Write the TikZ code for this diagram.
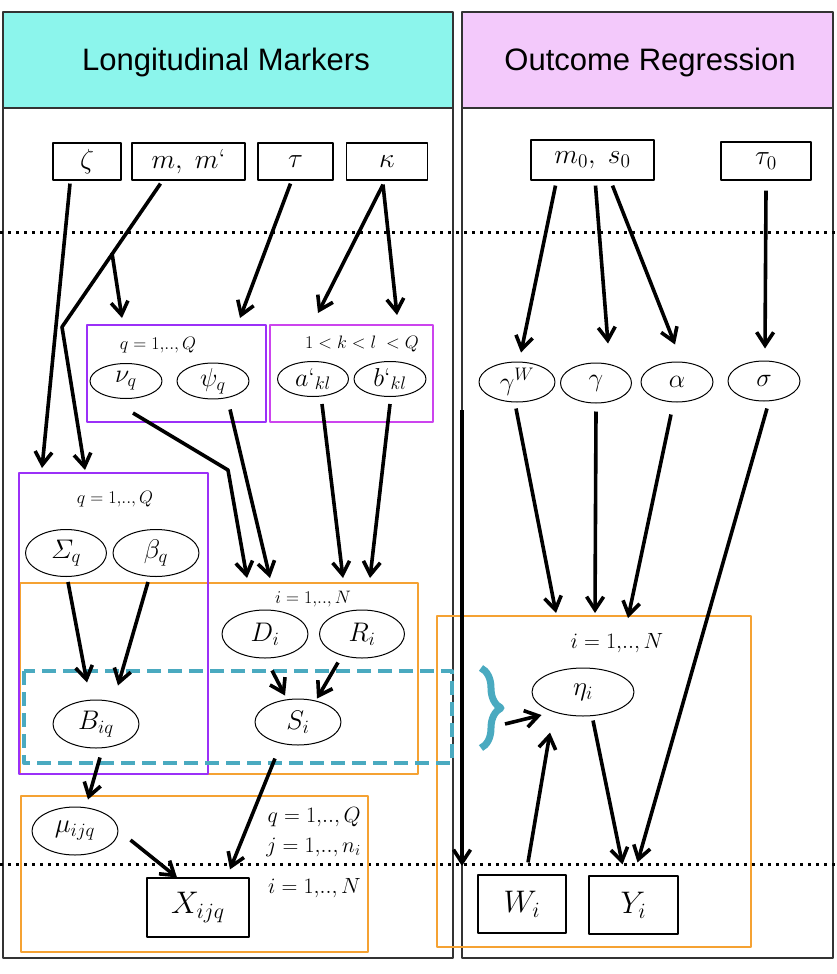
\RequirePackage{fix-cm}
\documentclass[tikz,border=0pt]{standalone}
\usepackage{amsmath}
\usepackage{fontspec}
\newfontfamily\headfont{Liberation Sans}
\usetikzlibrary{arrows.meta,shapes.geometric,decorations.pathreplacing}
\definecolor{MarkerCyan}{RGB}{140,245,236}
\definecolor{OutcomePink}{RGB}{243,201,251}
\definecolor{PlateViolet}{RGB}{155,48,248}
\definecolor{PlateMagenta}{RGB}{204,68,238}
\definecolor{PlateOrange}{RGB}{245,162,51}
\definecolor{BraceTeal}{RGB}{74,170,192}
\newcommand{\setsz}[1]{\fontsize{#1}{#1}\selectfont}
% math above 24pt is set at 24pt and scaled up
\newcommand{\mvar}[2]{\scalebox{#1}{\setsz{24}$#2$}}

\begin{document}
\begin{tikzpicture}[x=1pt, y=-1pt, line join=round,
  arr/.style={line width=3.6pt, -{Straight Barb[length=13pt,width=17pt]}},
  latent/.style={draw, ellipse, line width=1pt, inner sep=0pt},
  obs/.style={draw, rectangle, line width=1.2pt, inner sep=0pt},
  panel/.style={draw=black!80, line width=1.2pt},
  plateV/.style={draw=PlateViolet, line width=1.6pt},
  plateM/.style={draw=PlateMagenta, line width=1.6pt},
  plateO/.style={draw=PlateOrange, line width=1.6pt},
  dotline/.style={line width=3pt, dash pattern=on 3pt off 5pt},
  idx/.style={inner sep=0pt}]
  \useasboundingbox (0,0) rectangle (836,974);

  % Panels and headers
  \fill[MarkerCyan] (3,12) rectangle (453,108);
  \fill[OutcomePink] (462,12) rectangle (833,108);
  \draw[panel] (3,12) rectangle (453,958) (3,108) -- (453,108);
  \draw[panel] (462,12) rectangle (833,958) (462,108) -- (833,108);
  \node (headL) at (226,62) {\headfont\setsz{31}Longitudinal Markers};
  \node (headR) at (650,62) {\headfont\setsz{31}Outcome Regression};

  % Dotted separators
  \draw[dotline] (0,232) -- (836,232);
  \draw[dotline] (0,864) -- (836,864);

  % Plates
  \draw[plateV] (87,325) rectangle (266,422);
  \draw[plateM] (270,325) rectangle (433,422);
  \draw[plateO] (20,583) rectangle (418,774);
  \draw[plateV] (19,473) rectangle (208,774);
  \draw[plateO] (21,796) rectangle (368,952);
  \draw[plateO] (437,616) rectangle (751,947);
  \draw[BraceTeal, line width=4pt, dash pattern=on 14pt off 7pt] (24,671) rectangle (452,763);

  % Plate indices
  \node[idx] (qNu) at (158,345) {\setsz{18}$q = 1{,}..,Q$};
  \node[idx] (kl) at (362,344) {\setsz{18}$1<k<l\;<Q$};
  \node[idx] (qSB) at (115,499) {\setsz{18}$q = 1{,}..,Q$};
  \node[idx] (iD) at (313,599) {\setsz{18}$i = 1{,}..,N$};
  \node[idx] (iEta) at (617,643) {\setsz{22}$i = 1{,}..,N$};
  \node[idx, anchor=east] (qX) at (361,817) {\setsz{22}$q = 1{,}..,Q$};
  \node[idx, anchor=east] (jX) at (361,847) {\setsz{22}$j = 1{,}..,n_i$};
  \node[idx, anchor=east] (iX) at (361,888) {\setsz{22}$i = 1{,}..,N$};

  % Hyperparameters
  \node[obs, minimum width=68pt, minimum height=37pt] (zeta) at (87,161.5) {\mvar{1.15}{\zeta}};
  \node[obs, minimum width=113pt, minimum height=37pt] (mm) at (188.5,161.5) {\mvar{1.15}{m,\; m\text{‘}}};
  \node[obs, minimum width=75pt, minimum height=37pt] (tau) at (295.5,161.5) {\mvar{1.15}{\tau}};
  \node[obs, minimum width=81pt, minimum height=37pt] (kappa) at (387,161.5) {\mvar{1.15}{\kappa}};
  \node[obs, minimum width=123pt, minimum height=40pt] (ms0) at (592.5,160) {\mvar{1.15}{m_0,\; s_0}};
  \node[obs, minimum width=90pt, minimum height=38pt] (tau0) at (766,161) {\mvar{1.15}{\tau_0}};

  % Latent variables
  \node[latent, minimum width=72pt, minimum height=35pt] (nu) at (126,381) {\mvar{1.08}{\nu_q}};
  \node[latent, minimum width=72pt, minimum height=35pt] (psi) at (213,381) {\mvar{1.08}{\psi_q}};
  \node[latent, minimum width=71pt, minimum height=35pt] (ap) at (313,379) {\mvar{1.08}{a\text{‘}_{kl}}};
  \node[latent, minimum width=72pt, minimum height=35pt] (bp) at (390,379) {\mvar{1.08}{b\text{‘}_{kl}}};
  \node[latent, minimum width=81pt, minimum height=47pt] (Sigma) at (66,553) {\mvar{1.12}{\varSigma_q}};
  \node[latent, minimum width=86pt, minimum height=47pt] (beta) at (156,553) {\mvar{1.12}{\beta_q}};
  \node[latent, minimum width=86pt, minimum height=48pt] (D) at (265,634) {\mvar{1.12}{D_i}};
  \node[latent, minimum width=85pt, minimum height=48pt] (R) at (362,634) {\mvar{1.12}{R_i}};
  \node[latent, minimum width=86pt, minimum height=48pt] (B) at (96,724) {\mvar{1.12}{B_{iq}}};
  \node[latent, minimum width=86pt, minimum height=46pt] (S) at (298,722) {\mvar{1.12}{S_i}};
  \node[latent, minimum width=86pt, minimum height=48pt] (mu) at (75,831) {\mvar{1.12}{\mu_{ijq}}};
  \node[latent, minimum width=76pt, minimum height=40pt] (gW) at (517,382) {\mvar{1.08}{\gamma^W}};
  \node[latent, minimum width=71pt, minimum height=40pt] (gamma) at (596,383) {\mvar{1.08}{\gamma}};
  \node[latent, minimum width=72pt, minimum height=40pt] (alpha) at (677,382) {\mvar{1.08}{\alpha}};
  \node[latent, minimum width=72pt, minimum height=40pt] (sigma) at (764,381) {\mvar{1.08}{\sigma}};
  \node[latent, minimum width=102pt, minimum height=48pt] (eta) at (583,692) {\mvar{1.12}{\eta_i}};

  % Observed data
  \node[obs, minimum width=102pt, minimum height=59pt] (X) at (198,907.5) {\mvar{1.3}{X_{ijq}}};
  \node[obs, minimum width=88pt, minimum height=58pt] (W) at (522,904) {\mvar{1.3}{W_i}};
  \node[obs, minimum width=89pt, minimum height=58pt] (Y) at (633.5,905) {\mvar{1.3}{Y_i}};

  % Brace joining B and S
  \draw[BraceTeal, line width=7pt, decorate, decoration={brace, amplitude=20pt}] (481,668) -- (481,748);
  \coordinate (braceTip) at (505,724);

  % Arrow end points on plates
  \coordinate (zEnd) at (42,468);
  \coordinate (mFork) at (112,253);
  \coordinate (mBend) at (62,327);
  \coordinate (mEnd) at (85,470);
  \coordinate (nuIn) at (122,318);
  \coordinate (tEnd) at (240,318);
  \coordinate (kEnd1) at (318,313);
  \coordinate (kEnd2) at (397,315);
  \coordinate (nuBend) at (228,470);
  \coordinate (dIn1) at (247,578);
  \coordinate (dIn2) at (270,578);
  \coordinate (rIn1) at (343,578);
  \coordinate (rIn2) at (370,578);
  \coordinate (etaIn1) at (556,613);
  \coordinate (etaIn2) at (595,613);
  \coordinate (etaIn3) at (628,618);
  \coordinate (vTop) at (462,410);
  \coordinate (vBot) at (462,866);

  % Longitudinal part
  \draw[arr] ([xshift=-17pt,yshift=-3pt]zeta.south) -- (zEnd);
  \draw[arr] ([xshift=-28pt,yshift=-3pt]mm.south) -- (mBend) -- (mEnd);
  \draw[arr] (mFork) -- (nuIn);
  \draw[arr] ([xshift=-5pt,yshift=-3pt]tau.south) -- (tEnd);
  \draw[arr] ([xshift=-4pt,yshift=-4pt]kappa.south) -- (kEnd1);
  \draw[arr] ([xshift=-4pt,yshift=-4pt]kappa.south) -- (kEnd2);
  \draw[arr] ([xshift=7pt,yshift=-14pt]nu.south) -- (nuBend) -- (dIn1);
  \draw[arr] ([xshift=17pt,yshift=-10pt]psi.south) -- (dIn2);
  \draw[arr] ([xshift=9pt,yshift=-7pt]ap.south) -- (rIn1);
  \draw[arr] ([yshift=-7pt]bp.south) -- (rIn2);
  \draw[arr] ([xshift=2pt,yshift=-5pt]Sigma.south) -- ([xshift=-9pt,yshift=17pt]B.north);
  \draw[arr] ([xshift=-8pt,yshift=-5pt]beta.south) -- ([xshift=22pt,yshift=14pt]B.north);
  \draw[arr] ([xshift=7pt,yshift=-12pt]D.south) -- ([xshift=-13pt,yshift=3pt]S.north);
  \draw[arr] ([xshift=-24pt,yshift=-4pt]R.south) -- ([xshift=19pt]S.north);
  \draw[arr] ([xshift=4pt,yshift=-9pt]B.south) -- ([xshift=13pt,yshift=7pt]mu.north);
  \draw[arr] ([xshift=-23pt,yshift=-13pt]S.south) -- ([xshift=32pt,yshift=8pt]X.north);
  \draw[arr] ([xshift=12pt,yshift=-9pt]mu.east) -- ([xshift=-21pt]X.north);

  % Outcome part
  \draw[arr] ([xshift=-37pt,yshift=-5pt]ms0.south) -- ([xshift=4pt,yshift=9pt]gW.north);
  \draw[arr] ([xshift=3pt,yshift=-5pt]ms0.south) -- ([xshift=12pt,yshift=19pt]gamma.north);
  \draw[arr] ([xshift=20pt,yshift=-5pt]ms0.south) -- ([xshift=-2pt,yshift=17pt]alpha.north);
  \draw[arr] ([yshift=-10pt]tau0.south) -- ([xshift=1pt,yshift=12pt]sigma.north);
  \draw[arr] ([xshift=-1pt,yshift=-6pt]gW.south) -- (etaIn1);
  \draw[arr] ([yshift=-8pt]gamma.south) -- (etaIn2);
  \draw[arr] ([xshift=-6pt,yshift=-12pt]alpha.south) -- (etaIn3);
  \draw[arr] ([xshift=3pt,yshift=-7pt]sigma.south) -- ([xshift=4pt,yshift=13pt]Y.north);
  \draw[arr] ([xshift=10pt,yshift=-4pt]eta.south) -- ([xshift=-11pt,yshift=11pt]Y.north);
  \draw[arr] ([xshift=6pt,yshift=12pt]W.north) -- ([xshift=-33pt,yshift=-16pt]eta.south);
  \draw[arr] (braceTip) -- ([xshift=10pt,yshift=-23pt]eta.west);
  \draw[arr] (vTop) -- (vBot);
\end{tikzpicture}
\end{document}
